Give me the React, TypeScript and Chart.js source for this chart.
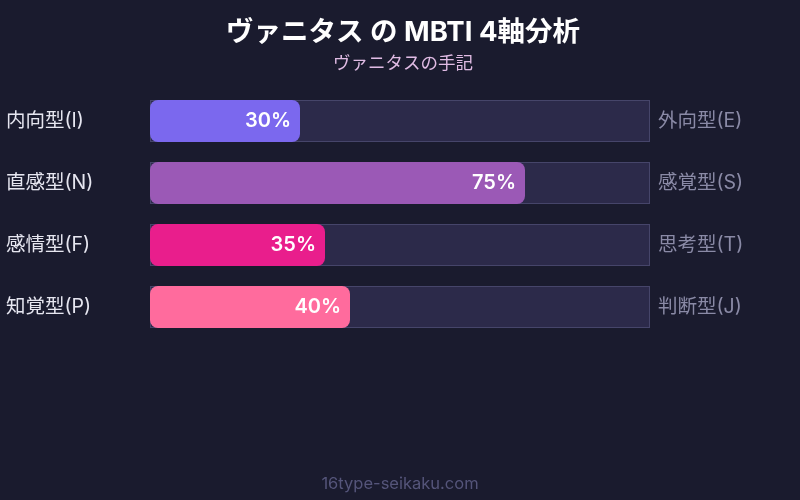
import React, { useEffect, useRef } from "react";
import Chart from "chart.js/auto";

const leftLabels = ["内向型(I)", "直感型(N)", "感情型(F)", "知覚型(P)"];
const rightLabels = ["外向型(E)", "感覚型(S)", "思考型(T)", "判断型(J)"];
const scores = [30, 75, 35, 40];
const trackValues = [100, 100, 100, 100];
const barColors = ["#7b68ee", "#9b59b6", "#e91e8c", "#ff6b9d"];

const titleText = "ヴァニタス の MBTI 4軸分析";
const subtitleText = "ヴァニタスの手記";
const footerText = "16type-seikaku.com";

const FONT = "Inter, 'Noto Sans CJK JP', sans-serif";

// percent label at the end of each fill bar + footer
const labelPlugin = {
  id: "pctLabels",
  afterDatasetsDraw(chart: any) {
    const { ctx } = chart;
    const meta = chart.getDatasetMeta(0);
    ctx.save();
    ctx.font = `600 20px ${FONT}`;
    ctx.fillStyle = "#ffffff";
    ctx.textAlign = "right";
    ctx.textBaseline = "middle";
    meta.data.forEach((bar: any, i: number) => {
      ctx.fillText(`${scores[i]}%`, bar.x - 9, bar.y);
    });
    ctx.font = `16.5px ${FONT}`;
    ctx.fillStyle = "#55557a";
    ctx.textAlign = "center";
    ctx.fillText(footerText, chart.width / 2, 484);
    ctx.restore();
  },
};

const App: React.FC = () => {
  const canvasRef = useRef<HTMLCanvasElement | null>(null);

  useEffect(() => {
    const ctx = canvasRef.current?.getContext("2d");
    if (!ctx) return;

    const chart = new Chart(ctx, {
      type: "bar",
      data: {
        labels: leftLabels,
        datasets: [
          {
            label: "score",
            data: scores,
            backgroundColor: barColors,
            borderRadius: 8,
            borderSkipped: false,
            grouped: false,
            order: 0,
            barPercentage: 1,
            categoryPercentage: 42 / 62,
          },
          {
            label: "track",
            data: trackValues,
            backgroundColor: "#2c2a4a",
            borderColor: "#46456a",
            borderWidth: 1,
            borderSkipped: false,
            grouped: false,
            order: 1,
            barPercentage: 1,
            categoryPercentage: 42 / 62,
          },
        ],
      },
      options: {
        indexAxis: "y",
        animation: false,
        responsive: true,
        maintainAspectRatio: false,
        layout: { padding: { top: 0, bottom: 162, left: 6, right: 0 } },
        plugins: {
          legend: { display: false },
          tooltip: { enabled: false },
          title: {
            display: true,
            text: titleText,
            color: "#ffffff",
            font: { family: FONT, size: 27.5, weight: "bold" },
            padding: { top: 16.5, bottom: 0 },
          },
          subtitle: {
            display: true,
            text: subtitleText,
            color: "#e0bbe4",
            font: { family: FONT, size: 17.5 },
            padding: { top: 4, bottom: 15.5 },
          },
        },
        scales: {
          x: { display: false, min: 0, max: 100 },
          y: {
            position: "left",
            grid: { display: false, drawTicks: false },
            border: { display: false },
            ticks: {
              color: "#e6e6f0",
              font: { family: FONT, size: 19.5 },
              crossAlign: "far",
              padding: 0,
            },
            afterFit: (scale: any) => {
              scale.width = 144;
            },
          },
          y2: {
            type: "category",
            labels: rightLabels,
            position: "right",
            offset: true,
            grid: { display: false, drawTicks: false },
            border: { display: false },
            ticks: {
              color: "#8a8aa6",
              font: { family: FONT, size: 19.5 },
              padding: 8,
            },
            afterFit: (scale: any) => {
              scale.width = 150;
            },
          },
        },
      },
      plugins: [labelPlugin],
    } as any);

    return () => chart.destroy();
  }, []);

  return (
    <div
      style={{
        position: "fixed",
        top: 0,
        left: 0,
        width: 800,
        height: 500,
        background: "#1a1b2e",
      }}
    >
      <canvas ref={canvasRef} />
    </div>
  );
};

export default App;
